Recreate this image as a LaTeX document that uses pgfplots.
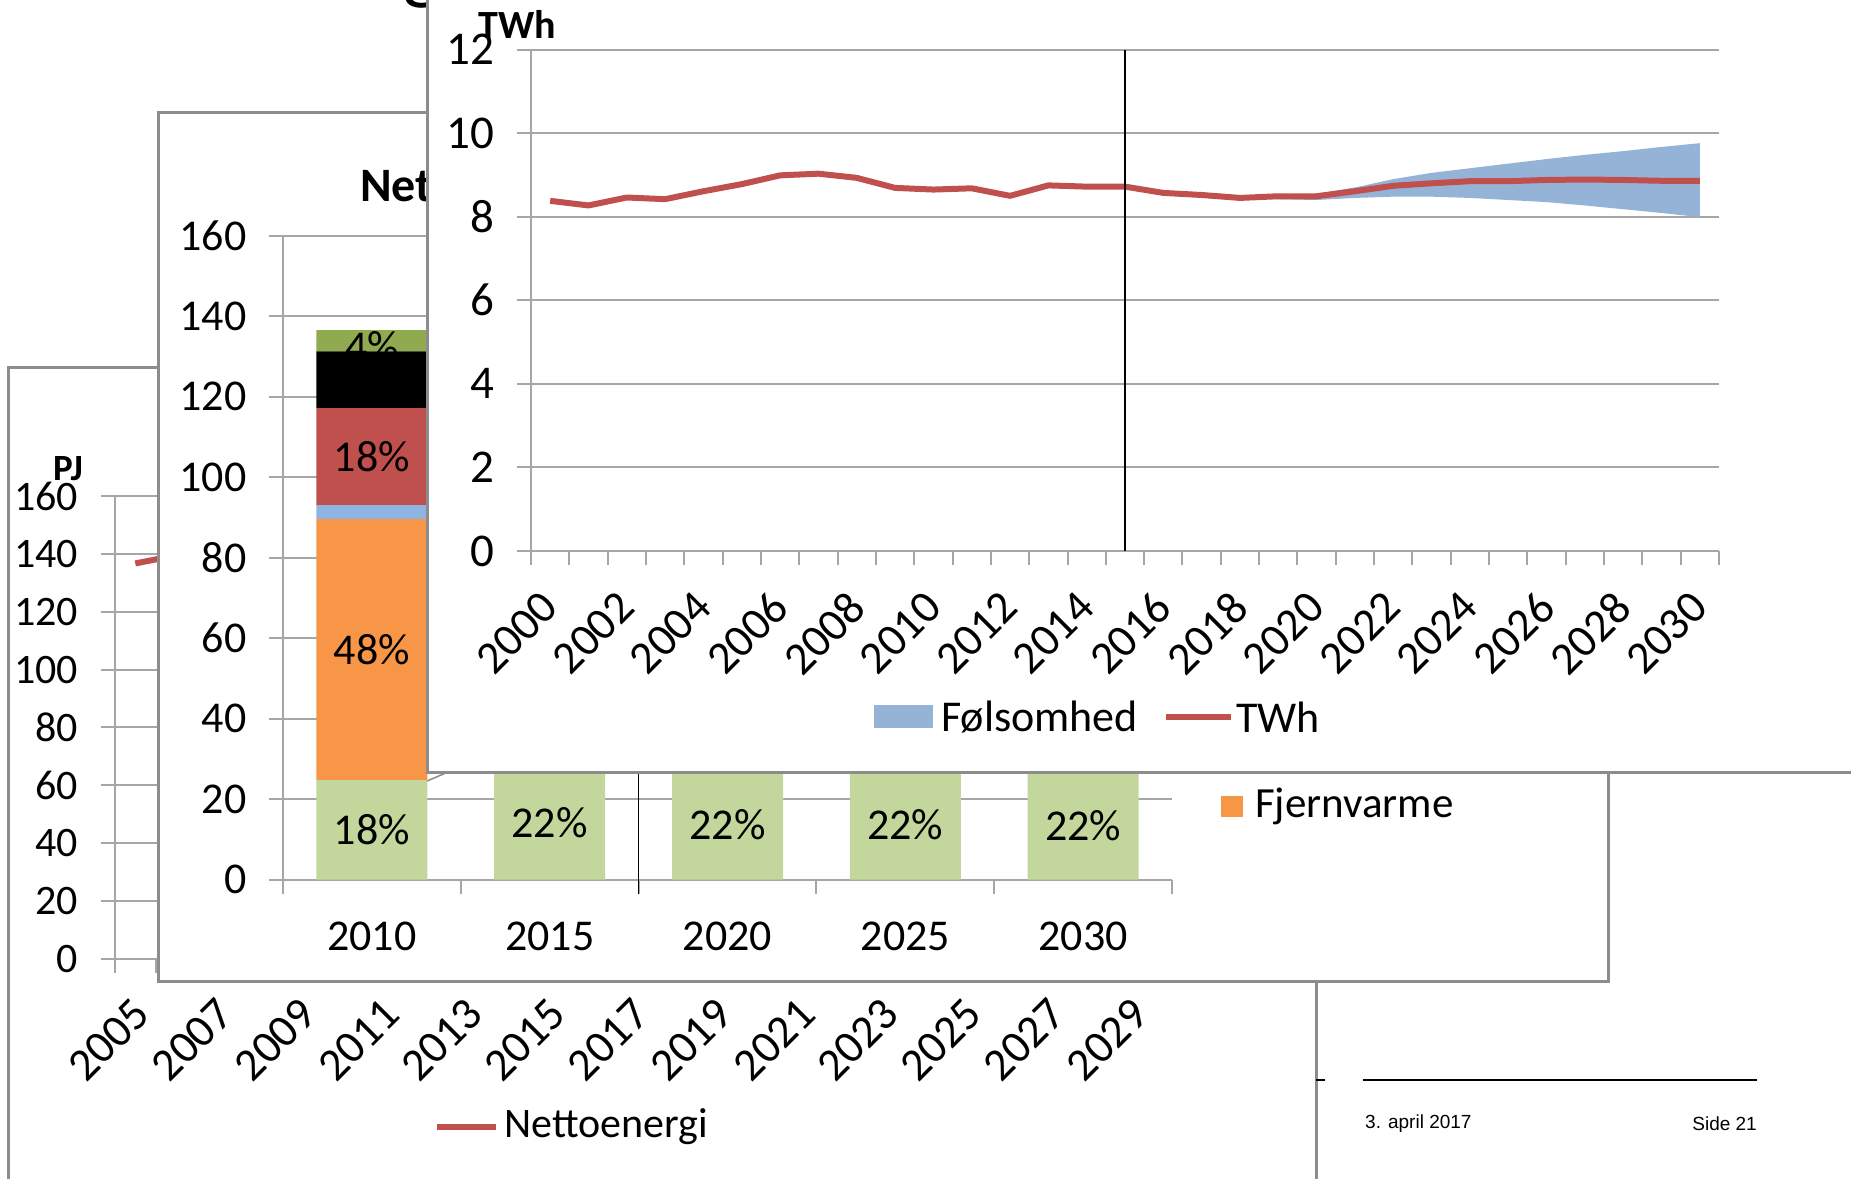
\documentclass[border=0pt]{standalone}
\usepackage{fontspec}
\setmainfont{Carlito}
\newfontfamily\footfont{Liberation Sans}
\usepackage{pgfplots}
\pgfplotsset{compat=1.18}

\definecolor{gridgray}{HTML}{A6A6A6}
\definecolor{framegray}{HTML}{8C8C8C}
\definecolor{xlred}{HTML}{C0504D}
\definecolor{xlblue}{HTML}{95B3D7}
\definecolor{xlgreen}{HTML}{C3D69B}
\definecolor{xlorange}{HTML}{F79646}
\definecolor{xllightblue}{HTML}{8DB4E2}
\definecolor{xlolive}{HTML}{8FAA4F}

\pgfplotsset{
  slide chart/.style={
    scale only axis, anchor=south west,
    axis x line=bottom, axis y line=left,
    axis line style={gridgray, line width=2pt, -},
    ymajorgrids, grid style={gridgray, line width=2pt},
    tick align=outside,
    major tick length=14pt, minor tick length=14pt,
    every tick/.style={gridgray, line width=2pt},
    major x tick style={draw=none},
    /pgf/number format/assume math mode=true,
    /pgf/number format/1000 sep={},
  }
}

\begin{document}
\begin{tikzpicture}[x=1pt, y=1pt]
\useasboundingbox (0,0) rectangle (1851,1178);

% slide title, only its lowest edge is inside the page
\node[anchor=base west, inner sep=0pt, font=\fontsize{80}{90}\selectfont] at (72,1183) {Nettoenergibehov};

% ---- back panel: PJ ----
\filldraw[fill=white, draw=framegray, line width=3pt] (8,-20) rectangle (1316,810);
\begin{axis}[slide chart,
  at={(114.5pt,219pt)}, width=1081.5pt, height=463pt,
  xmin=2004.5, xmax=2030.5, ymin=0, ymax=160,
  ytick={0,20,...,160},
  xtick={2005,2007,...,2029},
  minor xtick={2004.5,2005.5,...,2030.5},
  yticklabel style={font=\fontsize{42}{48}\selectfont, xshift=-19pt},
  xticklabel style={font=\fontsize{46}{52}\selectfont, xshift=-4pt, yshift=-18pt, rotate=45, anchor=north east},
]
\addplot[xlred, line width=6pt, line join=round] coordinates {
  (2005,136.7) (2006,139.5) (2007,139.0) (2008,137.5) (2009,135.0) (2010,136.6)
  (2011,134.0) (2012,132.0) (2013,131.0) (2014,130.0) (2015,128.0) (2016,127.0)
  (2017,126.0) (2018,125.0) (2019,124.0) (2020,123.0) (2021,122.5) (2022,122.0)
  (2023,121.5) (2024,121.0) (2025,120.5) (2026,120.0) (2027,119.5) (2028,119.0)
  (2029,118.5) (2030,118.0)};
\end{axis}
\node[font=\bfseries\fontsize{37}{42}\selectfont] at (68,709) {PJ};
\draw[xlred, line width=6pt] (437,51) -- (496,51);
\node[anchor=west, inner sep=0pt, font=\fontsize{42}{48}\selectfont] at (504,51) {Nettoenergi};

% ---- middle panel: stacked bars ----
\filldraw[fill=white, draw=framegray, line width=3pt] (158,197) rectangle (1608,1065);
\node[anchor=west, inner sep=0pt, font=\bfseries\fontsize{48}{54}\selectfont] at (360,989) {Nettoenergiforbrug};
\begin{axis}[slide chart,
  at={(283pt,298.5pt)}, width=889pt, height=643.5pt,
  xmin=2007.5, xmax=2032.5, ymin=0, ymax=160,
  ytick={0,20,...,160},
  xtick={2010,2015,...,2030},
  minor xtick={2007.5,2012.5,...,2032.5},
  ybar stacked, bar width=111pt, clip=false,
  tick label style={font=\fontsize{44}{50}\selectfont},
  yticklabel style={xshift=-19pt},
  xticklabel style={yshift=-25pt},
]
\addplot[fill=xlgreen, draw=none] coordinates {(2010,24.7) (2015,28.2) (2020,27.5) (2025,27.2) (2030,27.0)};
\addplot[fill=xlorange, draw=none] coordinates {(2010,64.9) (2015,58) (2020,55) (2025,52) (2030,50)};
\addplot[fill=xllightblue, draw=none] coordinates {(2010,3.5) (2015,5) (2020,6) (2025,7) (2030,8)};
\addplot[fill=xlred, draw=none] coordinates {(2010,24.1) (2015,22) (2020,21) (2025,20) (2030,19)};
\addplot[fill=black, draw=none] coordinates {(2010,14.1) (2015,10) (2020,8) (2025,7) (2030,6)};
\addplot[fill=xlolive, draw=none] coordinates {(2010,5.3) (2015,5) (2020,5) (2025,5) (2030,5)};
\coordinate (labA) at (axis cs:2010,12.35);
\coordinate (labB) at (axis cs:2010,57.15);
\coordinate (labC) at (axis cs:2010,105.15);
\coordinate (labD) at (axis cs:2015,14.1);
\coordinate (labE) at (axis cs:2020,13.75);
\coordinate (labF) at (axis cs:2025,13.6);
\coordinate (labG) at (axis cs:2030,13.5);
\coordinate (clipA) at (axis cs:2008,131.3);
\coordinate (clipB) at (axis cs:2012,145);
\coordinate (lab4) at (axis cs:2010,132.6);
\draw[black, line width=1.5pt] (axis cs:2017.5,-3.5) -- (axis cs:2017.5,160);
\end{axis}
\begin{scope}[every node/.style={font=\fontsize{44}{50}\selectfont}]
\node at (labA) {18\%};
\node at (labB) {48\%};
\node at (labC) {18\%};
\node at (labD) {22\%};
\node at (labE) {22\%};
\node at (labF) {22\%};
\node at (labG) {22\%};
\clip (clipA) rectangle (clipB);
\node at (lab4) {4\%};
\end{scope}
\fill[xlorange] (1221,361) rectangle (1243,382);
\node[anchor=west, inner sep=0pt, font=\fontsize{43}{48}\selectfont] at (1255,372) {Fjernvarme};

% ---- front panel: TWh ----
\draw[framegray, line width=1.5pt] (427,397) -- (460,411);
\filldraw[fill=white, draw=framegray, line width=3pt] (427,405) rectangle (1880,1200);
\begin{axis}[slide chart,
  at={(531pt,627pt)}, width=1188pt, height=501.4pt,
  xmin=1999.5, xmax=2030.5, ymin=0, ymax=12,
  ytick={0,2,...,12},
  xtick={2000,2002,...,2030},
  minor xtick={1999.5,2000.5,...,2030.5},
  yticklabel style={font=\fontsize{47}{54}\selectfont, xshift=-19pt},
  xticklabel style={font=\fontsize{46}{52}\selectfont, xshift=-11pt, yshift=-19pt, rotate=45, anchor=north east},
]
% Følsomhed band: upper bound forward, lower bound backward
\addplot[fill=xlblue, draw=none] coordinates {
  (2018,8.45) (2019,8.50) (2020,8.55) (2021,8.70) (2022,8.90) (2023,9.05)
  (2024,9.16) (2025,9.27) (2026,9.38) (2027,9.48) (2028,9.57) (2029,9.67) (2030,9.76)
  (2030,7.99) (2029,8.09) (2028,8.18) (2027,8.27) (2026,8.35) (2025,8.40)
  (2024,8.45) (2023,8.48) (2022,8.48) (2021,8.45) (2020,8.40) (2019,8.42) (2018,8.45)}
  -- cycle;
\addplot[xlred, line width=6pt, line join=round] coordinates {
  (2000,8.38) (2001,8.27) (2002,8.46) (2003,8.42) (2004,8.61) (2005,8.78)
  (2006,8.99) (2007,9.03) (2008,8.93) (2009,8.69) (2010,8.65) (2011,8.68)
  (2012,8.50) (2013,8.75) (2014,8.72) (2015,8.72) (2016,8.57) (2017,8.52)
  (2018,8.45) (2019,8.49) (2020,8.49) (2021,8.61) (2022,8.74) (2023,8.80)
  (2024,8.85) (2025,8.85) (2026,8.88) (2027,8.89) (2028,8.88) (2029,8.86)
  (2030,8.86)};
\draw[black, line width=1.5pt] (axis cs:2015,0) -- (axis cs:2015,12);
\end{axis}
\node[font=\bfseries\fontsize{40}{46}\selectfont] at (517,1154) {TWh};
\fill[xlblue] (874,450) rectangle (933,473);
\node[anchor=west, inner sep=0pt, font=\fontsize{44}{50}\selectfont] at (941,461) {Følsomhed};
\draw[xlred, line width=6pt] (1166,461) -- (1231,461);
\node[anchor=west, inner sep=0pt, font=\fontsize{44}{50}\selectfont] at (1236,461) {TWh};

% ---- footer ----
\draw[black, line width=1.5pt] (1363,98) -- (1757,98);
\draw[black, line width=1.5pt] (1316,98) -- (1325,98);
\node[anchor=west, inner sep=0pt, font=\footfont\fontsize{19}{22}\selectfont] at (1365,54) {3. april 2017};
\node[anchor=east, inner sep=0pt, font=\footfont\fontsize{19}{22}\selectfont] at (1757,54) {Side 21};
\end{tikzpicture}
\end{document}
